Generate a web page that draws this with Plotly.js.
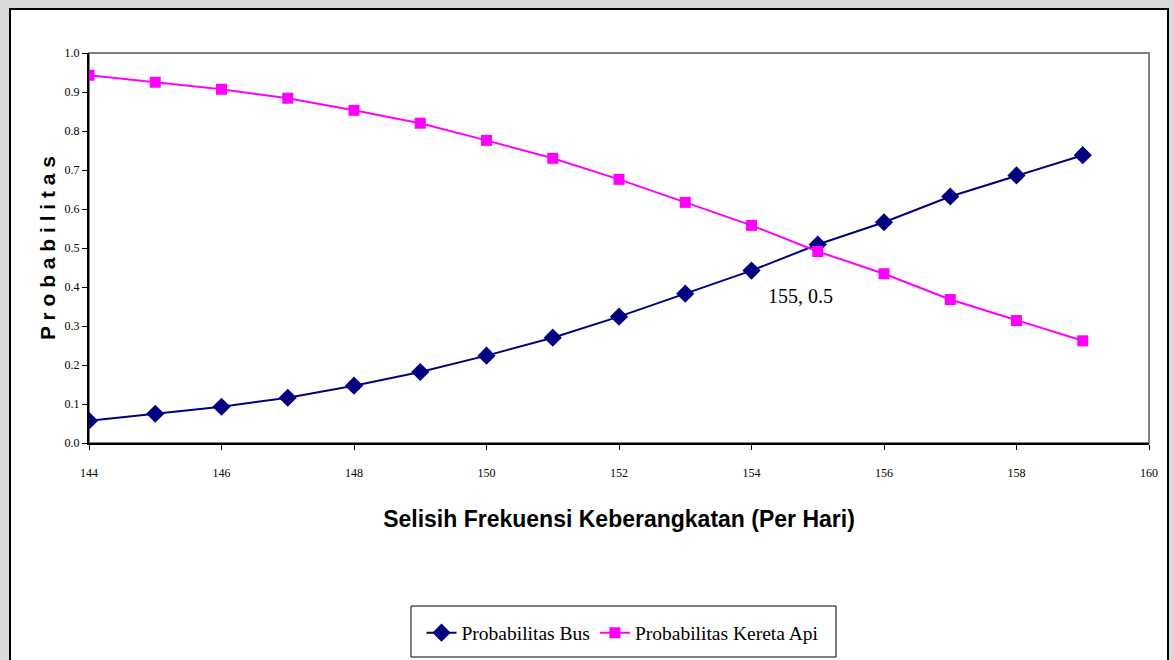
<!DOCTYPE html>
<html>
<head>
<meta charset="utf-8">
<script src="https://cdn.plot.ly/plotly-3.0.1.min.js"></script>
<style>html,body{margin:0;padding:0;background:#d9d9d9;}</style>
</head>
<body>
<div id="chart" style="width:1174px;height:660px;"></div>
<script>
const frekuensi = [144,145,146,147,148,149,150,151,152,153,154,155,156,157,158,159];
const probBus = [0.057,0.075,0.093,0.116,0.147,0.182,0.224,0.270,0.324,0.383,0.442,0.509,0.566,0.632,0.686,0.738];
const probKereta = [0.943,0.925,0.907,0.884,0.853,0.820,0.776,0.730,0.676,0.617,0.558,0.491,0.434,0.368,0.314,0.262];
const seriesNames = ["Probabilitas Bus","Probabilitas Kereta Api"];
const xTitle = "Selisih Frekuensi Keberangkatan (Per Hari)";
const yTitle = "P r o b a b i l i t a s";
const crossLabel = "155, 0.5";

const traces = [
  {x: frekuensi, y: probBus, name: seriesNames[0], type: 'scatter', mode: 'lines+markers',
   line: {color: '#000080', width: 2}, marker: {symbol: 'diamond', size: 14, color: '#000080'}},
  {x: frekuensi, y: probKereta, name: seriesNames[1], type: 'scatter', mode: 'lines+markers',
   line: {color: '#ff00ff', width: 2}, marker: {symbol: 'square', size: 11, color: '#ff00ff'}}
];

const W = 1174, H = 660, L = 89, R = 25, T = 53, B = 217;
const pw = W - L - R, ph = H - T - B;
function px(x){return (x - L)/pw;}
function py(y){return (H - B - y)/ph;}

const layout = {
  width: W, height: H,
  margin: {l: L, r: R, t: T, b: B, autoexpand: false},
  paper_bgcolor: '#d9d9d9',
  plot_bgcolor: '#ffffff',
  showlegend: true,
  xaxis: {
    range: [144, 160], dtick: 2, tick0: 144,
    showgrid: false, zeroline: false,
    showline: true, linecolor: '#000', linewidth: 2,
    ticks: 'outside', ticklen: 5, tickcolor: '#000', tickwidth: 1,
    ticklabelstandoff: 13,
    tickfont: {family: 'Liberation Serif, Times New Roman, serif', size: 12, color: '#000'},
    title: {text: xTitle, standoff: 31,
      font: {family: 'Liberation Sans, Arial, sans-serif', size: 23, color: '#000', weight: 'bold'}}
  },
  yaxis: {
    range: [0, 1], dtick: 0.1, tickformat: '.1f',
    showgrid: false, zeroline: false,
    showline: true, linecolor: '#000', linewidth: 2,
    ticks: 'outside', ticklen: 5, tickcolor: '#000', tickwidth: 1,
    tickfont: {family: 'Liberation Serif, Times New Roman, serif', size: 12, color: '#000'},
    title: {text: yTitle, standoff: 3,
      font: {family: 'Liberation Sans, Arial, sans-serif', size: 21, color: '#000', weight: 'bold'}}
  },
  legend: {
    orientation: 'h', x: px(623), xanchor: 'center', y: py(633), yanchor: 'middle',
    bgcolor: 'rgba(0,0,0,0)', borderwidth: 0,
    font: {family: 'Liberation Serif, Times New Roman, serif', size: 19.5, color: '#000'},
    itemwidth: 30
  },
  shapes: [
    {type: 'rect', xref: 'paper', yref: 'paper', layer: 'below',
     x0: px(10), x1: px(1168), y0: py(9), y1: py(668),
     fillcolor: '#ffffff', line: {color: '#000', width: 2}},
    {type: 'rect', xref: 'paper', yref: 'paper', layer: 'below',
     x0: 0, x1: 1, y0: 0, y1: 1,
     fillcolor: 'rgba(0,0,0,0)', line: {color: '#808080', width: 2}},
    {type: 'rect', xref: 'paper', yref: 'paper', layer: 'below',
     x0: px(411), x1: px(836), y0: py(606), y1: py(657),
     fillcolor: '#ffffff', line: {color: '#000', width: 1}}
  ],
  annotations: [
    {x: 155, y: 0.5, xref: 'x', yref: 'y', text: crossLabel, showarrow: false,
     xshift: -17, yshift: -48,
     font: {family: 'Liberation Serif, Times New Roman, serif', size: 20, color: '#000'}}
  ]
};

Plotly.newPlot('chart', traces, layout, {displayModeBar: false, staticPlot: true});
</script>
</body>
</html>
